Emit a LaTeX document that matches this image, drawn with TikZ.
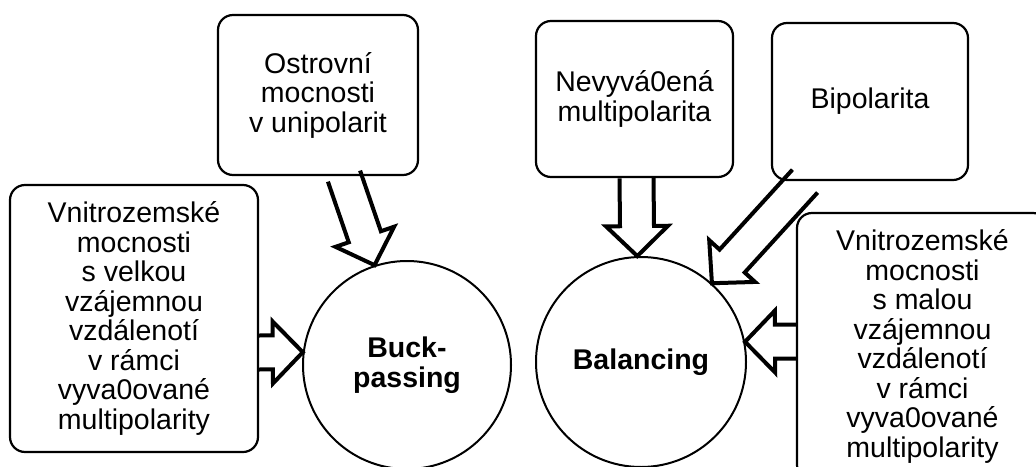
\documentclass[tikz,border=0pt]{standalone}
\usepackage{fontspec}
\setmainfont{Liberation Sans}
\usetikzlibrary{calc}
\newcommand\lblsize{\fontsize{28.5}{29.5}\selectfont}
\tikzset{
  pbox/.style    = {draw, rounded corners=15pt, align=center, line width=2.2pt, inner sep=0pt, font=\lblsize},
  hub/.style     = {draw, circle, align=center, line width=2pt, inner sep=0pt, font=\lblsize\bfseries},
  fatline/.style = {line width=4pt, line join=miter},
}
\newcommand\fatarrow[2]{%
  \coordinate (fa-s) at (#1); \coordinate (fa-t) at (#2);
  \coordinate (fa-b) at ($(fa-t)!30pt!(fa-s)$);
  \draw[fatline] ($(fa-s)!17pt!90:(fa-t)$) -- ($(fa-b)!17pt!90:(fa-t)$) -- ($(fa-b)!31pt!90:(fa-t)$) -- (fa-t)
    -- ($(fa-b)!31pt!-90:(fa-t)$) -- ($(fa-b)!17pt!-90:(fa-t)$) -- ($(fa-s)!17pt!-90:(fa-t)$);}

\begin{document}
\begin{tikzpicture}[x=1pt, y=-1pt]
  \useasboundingbox (0,0) rectangle (1036,466);
  \clip (0,0) rectangle (1036,466);
  \node[pbox, minimum width=200pt, minimum height=160pt] (ostr) at (318,95) {Ostrovní\\mocnosti\\v unipolarit};
  \node[pbox, minimum width=248pt, minimum height=267pt] (velk) at (134,318.5)
    {Vnitrozemské\\mocnosti\\s velkou\\vzájemnou\\vzdálenotí\\v rámci\\vyva0ované\\multipolarity};
  \node[pbox, minimum width=197pt, minimum height=156pt] (nevy) at (634.5,99) {Nevyvá0ená\\multipolarita};
  \node[pbox, minimum width=196pt, minimum height=157pt] (bipo) at (870,101.5) {Bipolarita};
  \node[pbox, minimum width=251pt, minimum height=267pt] (mal) at (922.5,346.5)
    {Vnitrozemské\\mocnosti\\s malou\\vzájemnou\\vzdálenotí\\v rámci\\vyva0ované\\multipolarity};
  \node[hub, minimum size=208pt] (buck) at (407,365) {Buck-\\passing};
  \node[hub, minimum size=210pt] (bal) at (641,362) {Balancing};
  \fatarrow{[xshift=26]ostr.south}{buck.108}
  \fatarrow{[yshift=-34]velk.east}{buck.173}
  \fatarrow{[xshift=2]nevy.south}{bal.92}
  \fatarrow{[xshift=-65]bipo.south}{bal.48}
  \fatarrow{[yshift=5]mal.west}{bal.11}
\end{tikzpicture}
\end{document}
